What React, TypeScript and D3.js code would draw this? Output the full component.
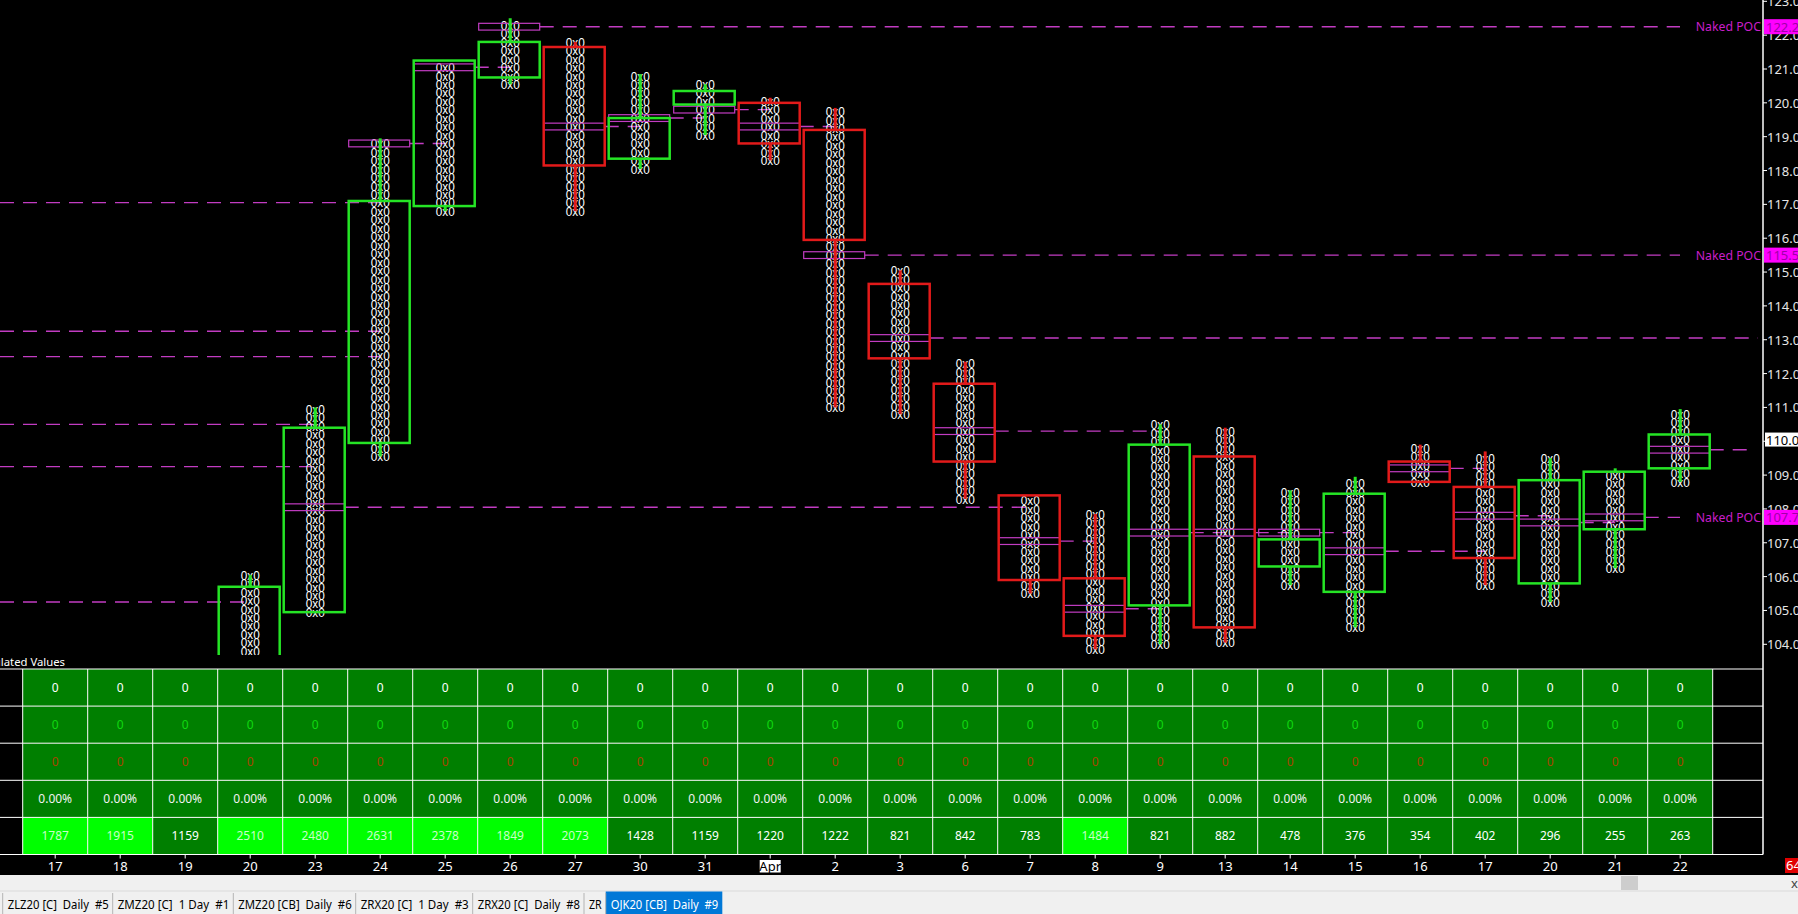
import React from 'react'
import * as d3 from 'd3'

// session labels on the time axis
const dates = ['17', '18', '19', '20', '23', '24', '25', '26', '27', '30', '31', 'Apr', '2', '3', '6', '7', '8', '9', '13', '14', '15', '16', '17', '20', '21', '22']

// OHLC per session, null where the bar sits below the visible price range
const opens = [null, null, null, 103.5, 104.95, 109.95, 116.95, 120.75, 121.65, 118.35, 119.95, 120.0, 119.2, 114.65, 111.7, 108.4, 105.95, 105.15, 109.55, 106.3, 105.55, 109.4, 108.65, 105.8, 107.4, 109.2]
const highs = [null, null, null, 106.05, 111.0, 118.95, 121.25, 122.5, 121.8, 120.85, 120.55, 120.15, 119.85, 115.05, 112.35, 108.4, 107.85, 110.5, 110.4, 108.55, 108.95, 109.9, 109.7, 109.5, 109.2, 110.95]
const lows = [null, null, null, 103.3, 104.95, 109.55, 116.8, 120.55, 116.8, 118.05, 119.05, 118.3, 111.0, 110.8, 108.3, 105.5, 103.85, 104.0, 104.05, 105.75, 104.5, 108.8, 105.75, 105.25, 106.25, 108.8]
const closes = [null, null, null, 105.7, 110.4, 117.1, 121.25, 121.8, 118.15, 119.55, 120.35, 118.8, 115.95, 112.45, 109.4, 105.9, 104.25, 109.9, 104.5, 107.1, 108.45, 108.8, 106.55, 108.85, 109.1, 110.2]
const pocs = [null, null, null, null, 108.05, 118.8, 121.05, 122.25, 119.3, 119.55, 119.8, 119.3, 115.5, 113.05, 110.3, 107.05, 105.05, 107.3, 107.3, 107.3, 106.75, 109.2, 107.8, 107.6, 107.75, 109.75]

// POCs of older sessions (left of the view) that are still extended
const priorPocs = [117.05, 113.25, 112.5, 110.5, 109.25, 105.25]
// naked POCs that carry a label on the right
const labelledPocs = [122.25, 115.5, 107.75]
const lastPrice = 110.05
const rowTick = 0.25

// table rows
const calcRow1 = [0, 0, 0, 0, 0, 0, 0, 0, 0, 0, 0, 0, 0, 0, 0, 0, 0, 0, 0, 0, 0, 0, 0, 0, 0, 0]
const calcRow2 = [0, 0, 0, 0, 0, 0, 0, 0, 0, 0, 0, 0, 0, 0, 0, 0, 0, 0, 0, 0, 0, 0, 0, 0, 0, 0]
const calcRow3 = [0, 0, 0, 0, 0, 0, 0, 0, 0, 0, 0, 0, 0, 0, 0, 0, 0, 0, 0, 0, 0, 0, 0, 0, 0, 0]
const calcPct = [0, 0, 0, 0, 0, 0, 0, 0, 0, 0, 0, 0, 0, 0, 0, 0, 0, 0, 0, 0, 0, 0, 0, 0, 0, 0]
const volumes = [1787, 1915, 1159, 2510, 2480, 2631, 2378, 1849, 2073, 1428, 1159, 1220, 1222, 821, 842, 783, 1484, 821, 882, 478, 376, 354, 402, 296, 255, 263]
const volumeHot = [1, 1, 0, 1, 1, 1, 1, 1, 1, 0, 0, 0, 0, 0, 0, 0, 1, 0, 0, 0, 0, 0, 0, 0, 0, 0]

const tabs = ['ZLZ20 [C]  Daily  #5', 'ZMZ20 [C]  1 Day  #1', 'ZMZ20 [CB]  Daily  #6', 'ZRX20 [C]  1 Day  #3', 'ZRX20 [C]  Daily  #8', 'ZR', 'OJK20 [CB]  Daily  #9']
const tabEdges = [2.7, 112.7, 233.3, 355.7, 472.7, 584, 605.7, 722.3]

const W = 1798
const H = 914
const axisX = 1763
const plotBottom = 655
const tableTop = 669
const tableBottom = 854.5
const UI = "'Noto Sans', 'DejaVu Sans', sans-serif"
const NUM = "'Liberation Sans', Arial, sans-serif"
const GREEN = '#25e425'
const RED = '#e21a1a'
const PURPLE = '#c23cc2'

const App: React.FC = () => {
  const y = d3.scaleLinear().domain([104, 121]).range([644.3, 69])
  const x = d3.scaleBand<string>().domain(dates.map((_, i) => String(i))).range([22.7, 1712.7])
  const bw = x.bandwidth()
  const left = (i: number) => x(String(i))!
  const cx = (i: number) => left(i) + bw / 2
  const boxW = bw - 3
  const fmt = d3.format('.2f')

  const bars = dates.map((d, i) => ({
    i, d, o: opens[i], h: highs[i], l: lows[i], c: closes[i], poc: pocs[i],
  })).filter(b => b.o != null) as { i: number; d: string; o: number; h: number; l: number; c: number; poc: number | null }[]

  const firstTouch = (price: number, from: number) => {
    const b = bars.find(b => b.i > from && b.l <= price + 1e-6 && b.h >= price - 1e-6)
    return b ? b.i : null
  }

  // extension lines for POCs
  const pocLines: { x1: number; x2: number; p: number; label: boolean }[] = []
  priorPocs.forEach(p => {
    const j = firstTouch(p, -1)
    pocLines.push({ x1: 0, x2: j != null ? cx(j) : axisX - 5, p, label: false })
  })
  const lastIdx = bars[bars.length - 1].i
  bars.forEach(b => {
    if (b.poc == null) return
    const j = firstTouch(b.poc, b.i)
    const labelled = j == null && labelledPocs.includes(b.poc)
    const end = j != null ? cx(j) : labelled ? 1680 : b.i === lastIdx ? 1747 : axisX - 5
    pocLines.push({ x1: left(b.i) + boxW, x2: end, p: b.poc, label: labelled })
  })

  const rowY = d3.scaleBand<string>().domain(['a', 'b', 'c', 'd', 'e']).range([tableTop, tableBottom])
  const rh = rowY.bandwidth()
  const tableRows = [
    { key: 'a', vals: calcRow1.map(String), fg: () => '#ffffff', bg: () => '#007f00' },
    { key: 'b', vals: calcRow2.map(String), fg: () => '#10d810', bg: () => '#007f00' },
    { key: 'c', vals: calcRow3.map(String), fg: () => '#a84400', bg: () => '#007f00' },
    { key: 'd', vals: calcPct.map(v => fmt(v) + '%'), fg: () => '#f2f2f2', bg: () => '#007f00' },
    { key: 'e', vals: volumes.map(String), fg: (i: number) => (volumeHot[i] ? '#c8ffc8' : '#ffffff'), bg: (i: number) => (volumeHot[i] ? '#00ff00' : '#007f00') },
  ]

  return (
    <div style={{ position: 'fixed', left: 0, top: 0, width: W, height: H, background: '#000' }}>
      <svg width={W} height={H} style={{ display: 'block' }}>
        <defs>
          <clipPath id="plot">
            <rect x={0} y={0} width={axisX} height={plotBottom} />
          </clipPath>
        </defs>
        <rect x={0} y={0} width={W} height={H} fill="#000" />

        <g clipPath="url(#plot)">
          {pocLines.map((l, k) => (
            <line key={'pl' + k} x1={l.x1} x2={l.x2} y1={y(l.p)} y2={y(l.p)} stroke={PURPLE} strokeWidth={1.4} strokeDasharray="14 9" />
          ))}
          {bars.map(b => {
            const rows = d3.range(0, Math.floor((b.h - b.l) / rowTick + 1e-6) + 1).map(k => b.l + k * rowTick)
            return (
              <g key={'t' + b.i}>
                {rows.map((p, k) => (
                  <text key={k} x={cx(b.i)} y={y(p) + 4.8} textAnchor="middle" fontFamily={NUM} fontSize={13.5}
                    fill="#ffffff" textLength={19} lengthAdjust="spacingAndGlyphs">0x0</text>
                ))}
              </g>
            )
          })}
          {bars.map(b => b.poc == null ? null : (
            <rect key={'pr' + b.i} x={left(b.i) + 1} y={y(b.poc + 0.1)} width={boxW - 1} height={y(b.poc - 0.1) - y(b.poc + 0.1)}
              fill="none" stroke={PURPLE} strokeWidth={1.2} />
          ))}
          {bars.map(b => {
            const up = b.c >= b.o
            const col = up ? GREEN : RED
            const top = Math.max(b.o, b.c)
            const bot = Math.min(b.o, b.c)
            return (
              <g key={'b' + b.i}>
                <rect x={left(b.i) + 1} y={y(top)} width={boxW - 1} height={y(bot) - y(top)} fill="none" stroke={col} strokeWidth={2.5} />
                {b.h > top && <line x1={cx(b.i)} x2={cx(b.i)} y1={y(b.h)} y2={y(top)} stroke={col} strokeWidth={3} />}
                {b.l < bot && <line x1={cx(b.i)} x2={cx(b.i)} y1={y(bot)} y2={y(b.l)} stroke={col} strokeWidth={3} />}
              </g>
            )
          })}
        </g>

        {/* price axis */}
        <line x1={axisX} x2={axisX} y1={0} y2={tableBottom} stroke="#ffffff" strokeWidth={1.5} />
        {d3.range(104, 124).map(v => (
          <g key={'ax' + v}>
            <line x1={axisX} x2={axisX + 4} y1={y(v)} y2={y(v)} stroke="#fff" />
            <text x={axisX + 4} y={y(v) + 5} fontFamily={UI} fontSize={13} fill="#e6e6e6">{fmt(v)}</text>
          </g>
        ))}
        {pocLines.filter(l => l.label).map((l, k) => (
          <g key={'nk' + k}>
            <text x={axisX - 2} y={y(l.p) + 4.5} textAnchor="end" fontFamily={UI} fontSize={12.3} fill="#c81ec8">Naked POC</text>
            <rect x={axisX + 1} y={y(l.p) - 7.5} width={W - axisX} height={15} fill="#ff00ff" />
            <text x={axisX + 3} y={y(l.p) + 5} fontFamily={UI} fontSize={13} fill="#a000a8">{fmt(l.p)}</text>
          </g>
        ))}
        <rect x={axisX + 2} y={y(lastPrice) - 7} width={W - axisX} height={14} fill="#ffffff" />
        <text x={axisX + 3} y={y(lastPrice) + 5} fontFamily={UI} fontSize={13} fill="#000">{fmt(lastPrice)}</text>

        {/* table */}
        <text x={65} y={666} textAnchor="end" fontFamily={UI} fontSize={11.3} fill="#ffffff">Calculated Values</text>
        {tableRows.map(r => (
          <g key={r.key}>
            {r.vals.map((v, i) => (
              <g key={i}>
                <rect x={left(i)} y={rowY(r.key)!} width={bw} height={rh} fill={r.bg(i)} />
                <text x={cx(i)} y={rowY(r.key)! + rh / 2 + 4.5} textAnchor="middle" fontFamily={UI} fontSize={12} fill={r.fg(i)}>{v}</text>
              </g>
            ))}
          </g>
        ))}
        {d3.range(0, 6).map(k => {
          const yy = tableTop + k * rh
          return <line key={'h' + k} x1={0} x2={axisX} y1={yy} y2={yy} stroke="#ffffff" strokeWidth={1} />
        })}
        {d3.range(0, dates.length + 1).map(k => {
          const xx = k < dates.length ? left(k) : left(k - 1) + bw
          return <line key={'v' + k} x1={xx} x2={xx} y1={tableTop} y2={tableBottom} stroke="#ffffff" strokeWidth={1} />
        })}

        {/* time axis */}
        {dates.map((d, i) => (
          <g key={'d' + i}>
            <line x1={cx(i)} x2={cx(i)} y1={tableBottom} y2={tableBottom + 4} stroke="#fff" />
            {d === 'Apr' && <rect x={cx(i) - 10.5} y={860} width={21} height={12.5} fill="#ffffff" />}
            <text x={cx(i)} y={870.5} textAnchor="middle" fontFamily={UI} fontSize={13} fill={d === 'Apr' ? '#000' : '#ffffff'}>{d}</text>
          </g>
        ))}
        <rect x={1785} y={858} width={W - 1785} height={15} fill="#e00000" />
        <text x={1786} y={870} fontFamily={UI} fontSize={13} fill="#fff">64</text>

        {/* scroll bar + tabs */}
        <rect x={0} y={875} width={W} height={H - 875} fill="#f0f0f0" />
        <rect x={1621} y={876} width={17} height={14} fill="#cdcdcd" />
        <text x={1791} y={888} fontFamily={UI} fontSize={13} fill="#444">x</text>
        <line x1={0} x2={W} y1={891} y2={891} stroke="#dadada" />
        <rect x={tabEdges[6]} y={891.5} width={tabEdges[7] - tabEdges[6]} height={H - 891.5} fill="#0078d7" />
        {tabEdges.slice(0, 7).map((e, k) => (
          <line key={'te' + k} x1={e} x2={e} y1={893} y2={H} stroke="#b4b4b4" />
        ))}
        {tabs.map((t, k) => (
          <text key={'tab' + k} x={tabEdges[k] + 5} y={909} fontFamily={UI} fontSize={12}
            textLength={tabEdges[k + 1] - tabEdges[k] - 9} lengthAdjust="spacingAndGlyphs"
            fill={k === tabs.length - 1 ? '#ffffff' : '#000000'} style={{ whiteSpace: 'pre' }}>{t}</text>
        ))}
      </svg>
    </div>
  )
}

export default App
